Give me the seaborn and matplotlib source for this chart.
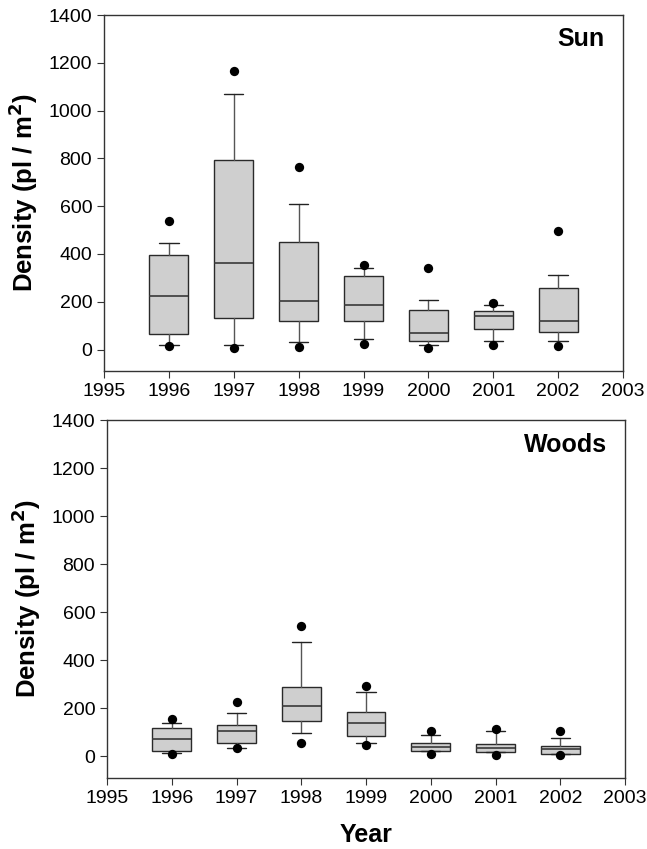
import numpy as np
import pandas as pd
import matplotlib
matplotlib.use("Agg")
import matplotlib.pyplot as plt
import seaborn as sns

# data (box = quartiles, whiskers = 10/90, dots = 5/95)
years = [1996, 1997, 1998, 1999, 2000, 2001, 2002]

sun_q1 = [63, 130, 118, 118, 35, 86, 75]
sun_med = [224, 362, 205, 188, 71, 142, 118]
sun_q3 = [396, 794, 450, 309, 166, 162, 258]
sun_wlo = [20, 18, 32, 45, 17, 36, 35]
sun_whi = [444, 1068, 610, 340, 209, 188, 312]
sun_plo = [14, 6, 10, 21, 7, 17, 14]
sun_phi = [538, 1167, 766, 355, 340, 194, 496]

woods_q1 = [24, 57, 149, 86, 24, 20, 12]
woods_med = [74, 107, 208, 139, 39, 36, 29]
woods_q3 = [118, 129, 290, 186, 57, 51, 42]
woods_wlo = [15, 35, 99, 57, 22, 17, 12]
woods_whi = [140, 179, 478, 269, 90, 107, 76]
woods_plo = [10, 33, 57, 47, 10, 7, 4]
woods_phi = [157, 228, 544, 293, 107, 115, 107]

sns.set_style("ticks")
plt.rcParams['font.family'] = ['Liberation Sans', 'DejaVu Sans']
plt.rcParams['text.color'] = 'black'
plt.rcParams['axes.labelcolor'] = 'black'
plt.rcParams['xtick.color'] = 'black'
plt.rcParams['ytick.color'] = 'black'

fig = plt.figure(figsize=(6.47, 8.49), dpi=100)
ax1 = fig.add_axes([0.1607, 0.563, 0.8023, 0.4193])
ax2 = fig.add_axes([0.1654, 0.0836, 0.8006, 0.4217])


def draw_panel(ax, q1, med, q3, wlo, whi, plo, phi, name):
    stats = []
    for i in range(len(years)):
        stats.append({'q1': q1[i], 'med': med[i], 'q3': q3[i],
                      'whislo': wlo[i], 'whishi': whi[i], 'fliers': []})
    ax.bxp(stats, positions=years, widths=0.6, capwidths=0.3,
           patch_artist=True, manage_ticks=False,
           boxprops=dict(facecolor='#cfcfcf', edgecolor='#2a2a2a', linewidth=1.0),
           medianprops=dict(color='#3a3a3a', linewidth=1.2),
           whiskerprops=dict(color='#555555', linewidth=1.0),
           capprops=dict(color='#222222', linewidth=1.0))

    pts = pd.DataFrame({'year': years + years, 'density': plo + phi})
    sns.scatterplot(data=pts, x='year', y='density', ax=ax, color='black',
                    s=45, edgecolor='black', linewidth=0, zorder=5)

    ax.set_xlim(1995, 2003)
    ax.set_ylim(-90, 1400)
    ax.set_xticks(range(1995, 2004))
    ax.set_yticks(range(0, 1401, 200))
    ax.tick_params(axis='both', labelsize=14, direction='out', length=5,
                   width=0.8, color='#333333', labelcolor='black')
    for sp in ax.spines.values():
        sp.set_visible(True)
        sp.set_color('#333333')
        sp.set_linewidth(1.0)
    ax.set_ylabel('Density (pl / m$^{\\mathbf{2}}$)', fontsize=18.5,
                  fontweight='bold', labelpad=6)
    ax.set_xlabel('')
    ax.text(0.965, 0.965, name, transform=ax.transAxes, ha='right', va='top',
            fontsize=18, fontweight='bold')


draw_panel(ax1, sun_q1, sun_med, sun_q3, sun_wlo, sun_whi, sun_plo, sun_phi, 'Sun')
draw_panel(ax2, woods_q1, woods_med, woods_q3, woods_wlo, woods_whi, woods_plo,
           woods_phi, 'Woods')
ax2.set_xlabel('Year', fontsize=18, fontweight='bold', labelpad=12)

fig.savefig('out.png', dpi=100)
